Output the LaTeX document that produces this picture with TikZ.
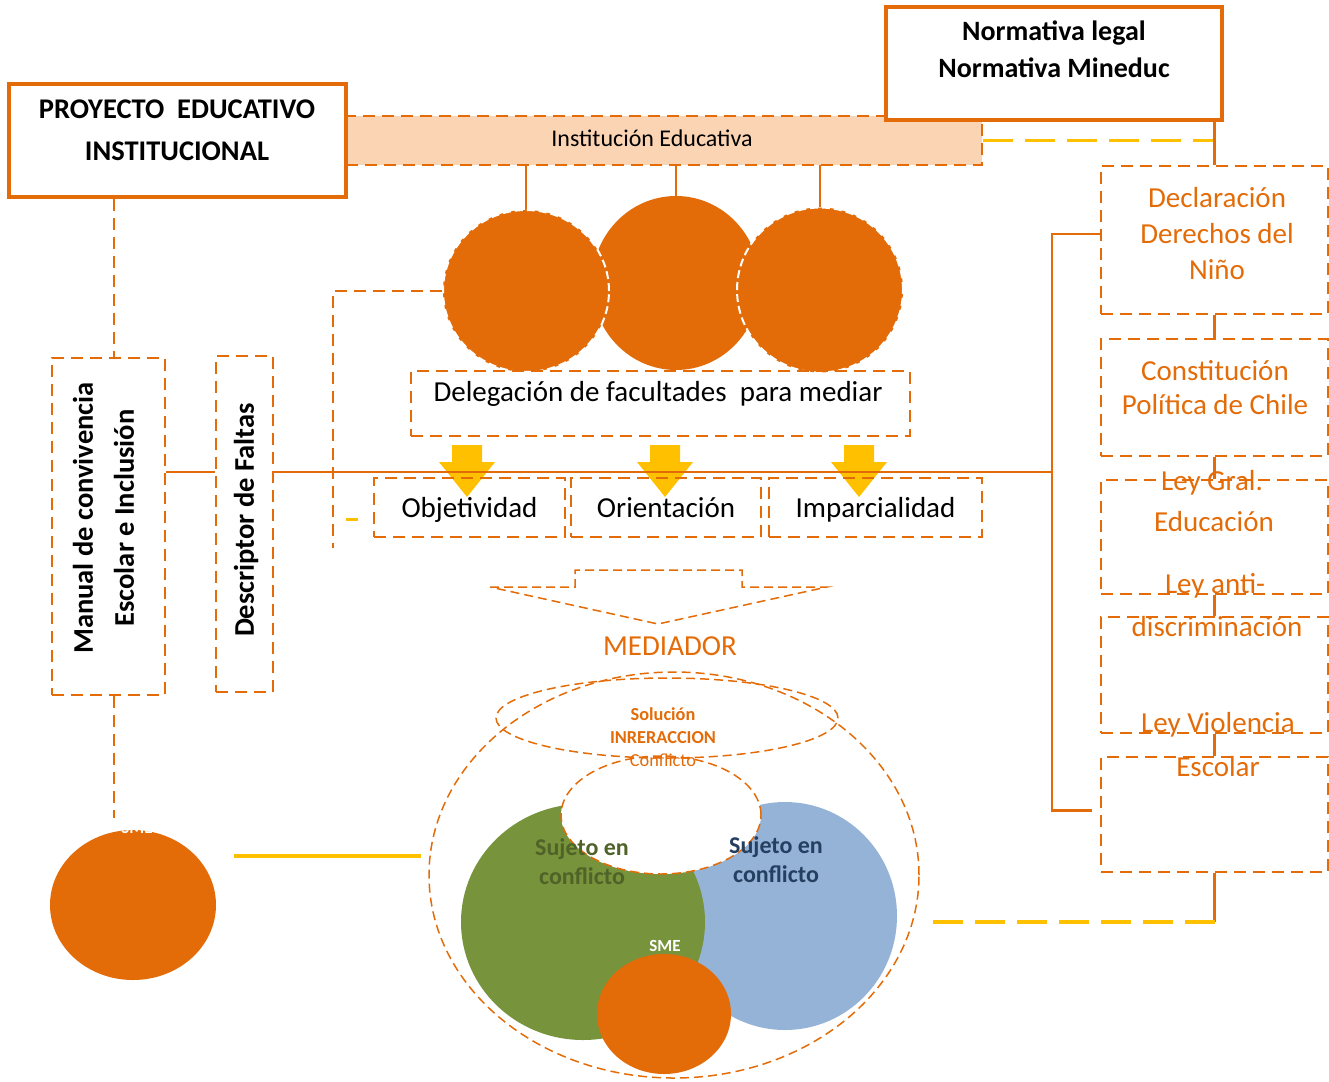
\documentclass[tikz,border=0pt]{standalone}
\usepackage{fontspec}
\setmainfont{Carlito}
\usetikzlibrary{shapes, positioning}

\definecolor{medorange}{HTML}{E36C09}
\definecolor{medyellow}{HTML}{FFC000}
\definecolor{medpeach}{HTML}{FBD4B4}
\definecolor{medgreen}{HTML}{77933C}
\definecolor{medblue}{HTML}{95B3D7}
\definecolor{darkgreen}{HTML}{4F6228}
\definecolor{darkblue}{HTML}{243F60}

\tikzset{
    dashbox/.style={draw=medorange, line width=2.5pt, dash pattern=on 12pt off 7pt, inner sep=0},
    solidbox/.style={draw=medorange, line width=3.5pt, fill=white, inner sep=0},
    orangeline/.style={draw=medorange, line width=2.5pt},
    dashline/.style={draw=medorange, line width=2.5pt, dash pattern=on 12pt off 7pt},
    yellowdash/.style={draw=medyellow, line width=3.5pt, dash pattern=on 30pt off 12pt},
    thindash/.style={draw=medorange, line width=1.5pt, dash pattern=on 9pt off 5pt},
    bigtext/.style={font=\fontsize{29}{34}\selectfont},
    lawtext/.style={text=medorange, font=\fontsize{29}{36}\selectfont, align=center}
}

\begin{document}
\begin{tikzpicture}[x=1pt, y=-1pt]
\useasboundingbox (0,0) rectangle (1329,1081);

\node[draw=medorange,
    fill=medpeach,
    line width=2.5pt,
    dash pattern=on 12pt off 7pt,
    minimum width=636pt,
    minimum height=49pt,
    inner sep=0] (inst) at (664,140.5) {};

\node[font=\fontsize{24}{28}\selectfont] (insttext) at (652,138) {Institución Educativa};

\node[solidbox,
    minimum width=337pt,
    minimum height=113pt] (pei) at (177.5,140.5) {};

\node[font=\bfseries\fontsize{28.5}{42}\selectfont,
    align=center] (peitext) at (177,130) {PROYECTO\ \ EDUCATIVO\\INSTITUCIONAL};

\node[solidbox,
    minimum width=336pt,
    minimum height=113pt] (norm) at (1054,63.5) {};

\node[font=\bfseries\fontsize{28}{37}\selectfont,
    align=center] (normtext) at (1054,49.5) {Normativa legal\\Normativa Mineduc};

\draw[orangeline] (526,165) -- (526,210)
    (676,165) -- (676,200)
    (820,165) -- (820,207);

\node[ellipse,
    fill=medorange,
    minimum width=168pt,
    minimum height=174pt,
    inner sep=0] (cmid) at (676,283) {};

\node[ellipse,
    fill=medorange,
    draw=white,
    line width=2pt,
    dash pattern=on 8pt off 4pt,
    minimum width=166pt,
    minimum height=162pt,
    inner sep=0] (cleft) at (526,291) {};

\node[ellipse,
    fill=medorange,
    draw=white,
    line width=2pt,
    dash pattern=on 8pt off 4pt,
    minimum width=166pt,
    minimum height=165pt,
    inner sep=0] (cright) at (820,290) {};

\node[dashbox,
    line width=2pt,
    minimum width=499pt,
    minimum height=65pt] (deleg) at (660.5,403.5) {};

\node[bigtext] (delegtext) at (658,394) {Delegación de facultades\ \ para mediar};

\fill[medyellow] (452,445) -- (482,445) -- (482,462) -- (495,462) -- (467,497) -- (439,462) -- (452,462) -- cycle;
\fill[medyellow] (650,445) -- (680,445) -- (680,462) -- (693,462) -- (665,497) -- (637,462) -- (650,462) -- cycle;
\fill[medyellow] (844,445) -- (874,445) -- (874,462) -- (887,462) -- (859,497) -- (831,462) -- (844,462) -- cycle;

\node[dashbox,
    line width=2pt,
    bigtext,
    text height=24pt,
    text depth=4pt,
    minimum width=191pt,
    minimum height=59pt] (objet) at (469.5,507.5) {Objetividad};

\node[dashbox,
    line width=2pt,
    bigtext,
    text height=24pt,
    text depth=4pt,
    minimum width=190pt,
    minimum height=59pt] (orient) at (666,507.5) {Orientación};

\node[dashbox,
    line width=2pt,
    bigtext,
    text height=24pt,
    text depth=4pt,
    minimum width=213pt,
    minimum height=59pt] (impar) at (875.5,507.5) {Imparcialidad};

\node[dashbox,
    minimum width=113pt,
    minimum height=337pt] (manual) at (108.5,526.5) {};

\node[font=\bfseries\fontsize{28.5}{41}\selectfont,
    align=center,
    rotate=90] (manualtext) at (103.5,518) {Manual de convivencia\\Escolar e Inclusión};

\node[dashbox,
    minimum width=57pt,
    minimum height=336pt] (desc) at (244.5,524) {};

\node[font=\bfseries\fontsize{28.5}{41}\selectfont,
    rotate=90] (desctext) at (246,520) {Descriptor de Faltas};

\node[dashbox,
    minimum width=227pt,
    minimum height=148pt] (decl) at (1214.5,240) {};

\node[dashbox,
    minimum width=227pt,
    minimum height=117pt] (const) at (1214.5,397.5) {};

\node[dashbox,
    minimum width=227pt,
    minimum height=114pt] (lge) at (1214.5,537) {};

\node[dashbox,
    minimum width=227pt,
    minimum height=116pt] (law4) at (1214.5,675) {};

\node[dashbox,
    minimum width=227pt,
    minimum height=115pt] (law5) at (1214.5,814.5) {};

\node[lawtext] (decltext) at (1217,234) {Declaración\\Derechos del\\Niño};
\node[lawtext, font=\fontsize{29}{34}\selectfont] (consttext) at (1215,388) {Constitución\\Política de Chile};
\node[lawtext] (lgetext) at (1212,483) {Ley Gral.};
\node[lawtext] (edutext) at (1214,522) {Educación};
\node[lawtext] (antitext) at (1215,586) {Ley anti-};
\node[lawtext] (discrtext) at (1217,627) {discriminación};
\node[lawtext] (violtext) at (1218,725) {Ley Violencia};
\node[lawtext] (escolartext) at (1218,767) {Escolar};

\coordinate (brk) at (1052,472);
\coordinate (dlend) at (333,548);
\coordinate (ydash) at (346,519);
\coordinate (ylstart) at (234,856);
\coordinate (bigend) at (927,922);

\draw[orangeline] (manual.east |- brk) -- (desc.west |- brk);
\draw[orangeline] (desc.east |- brk) -- (brk);
\draw[orangeline] ([yshift=6pt]decl.west) -| (brk) |- ([xshift=-8pt,yshift=4pt]law5.west);
\draw[dashline] (cleft.west) -| (dlend);
\draw[medyellow, line width=3pt] (ydash) -- ++(12,0);

\draw[dashline] ([xshift=5.5pt]manual.north |- pei.south) -- ([xshift=5.5pt]manual.north);

\draw[yellowdash] (inst.east) -- (decl.north |- inst.east);
\draw[orangeline] (decl.north |- norm.south) -- (decl.north);
\draw[orangeline] (decl) edge (const)
    (const) edge (lge)
    (lge) edge (law4)
    (law4) edge (law5);

\node[ellipse,
    fill=medorange,
    minimum width=166pt,
    minimum height=150pt,
    inner sep=0] (sme1) at (133,905) {};

\node[text=white,
    font=\bfseries\fontsize{17}{20}\selectfont] (sme1text) at (137,828) {SME};

\draw[dashline] ([xshift=5.5pt]manual.south) -- ([xshift=5.5pt,yshift=12pt]manual.south |- sme1.north);

\draw[thindash] (490,587) -- (575,587) -- (575,570) -- (742,570) -- (742,587) -- (827,587) -- (658,624) -- cycle;

\node[text=medorange, bigtext] (mediador) at (670,646) {MEDIADOR};

\node[ellipse,
    thindash,
    minimum width=490pt,
    minimum height=406pt,
    inner sep=0] (bigell) at (674,875) {};

\draw[medyellow, line width=4pt] (ylstart) -- ([xshift=-7pt]bigell.west |- ylstart);
\draw[orangeline] (law5.south) -- (law5.south |- bigend);
\draw[yellowdash] (law5.south |- bigend) -- (bigend);

\node[ellipse,
    fill=medblue,
    minimum width=224pt,
    minimum height=228pt,
    inner sep=0] (subj2) at (785,916) {};

\node[ellipse,
    fill=medgreen,
    minimum width=244pt,
    minimum height=236pt,
    inner sep=0] (subj1) at (583,922) {};

\node[ellipse,
    thindash,
    fill=white,
    minimum width=200pt,
    minimum height=118pt,
    inner sep=0] (inter) at (661,815) {};

\node[ellipse,
    fill=medorange,
    minimum width=134pt,
    minimum height=120pt,
    inner sep=0] (sme2) at (664,1014) {};

\node[ellipse,
    thindash,
    minimum width=342pt,
    minimum height=80pt,
    inner sep=0] (solution) at (667,718) {};

\node[text=medorange,
    align=center,
    font=\fontsize{18.3}{23}\selectfont] (soltext) at (663,737) {\textbf{Solución}\\\textbf{INRERACCION}\\Conflicto};

\node[text=darkgreen,
    align=center,
    font=\bfseries\fontsize{24}{29}\selectfont] (subj1text) at (582,861.5) {Sujeto en\\conflicto};

\node[text=darkblue,
    align=center,
    font=\bfseries\fontsize{24}{29}\selectfont] (subj2text) at (776,860) {Sujeto en\\conflicto};

\node[text=white,
    font=\bfseries\fontsize{17}{20}\selectfont] (sme2text) at (665,946) {SME};

\end{tikzpicture}
\end{document}
